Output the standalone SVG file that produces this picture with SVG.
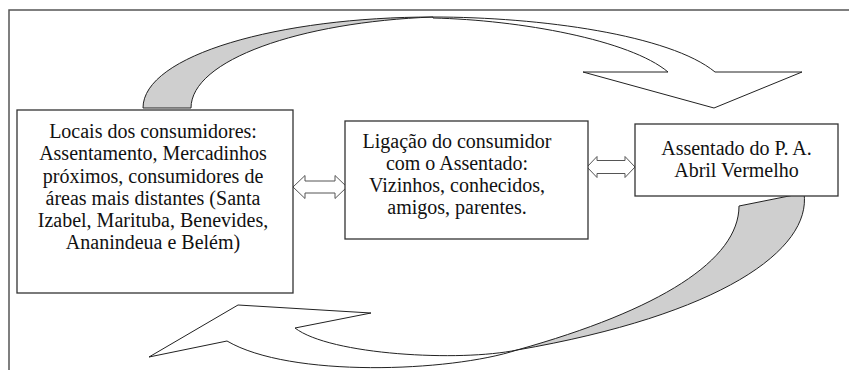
<svg xmlns="http://www.w3.org/2000/svg" width="849" height="370" viewBox="0 0 849 370">
<style>
.frame{fill:none;stroke:#555;stroke-width:1.5}
.box{fill:#fff;stroke:#333;stroke-width:1.3}
.t{font-family:'Liberation Serif','DejaVu Serif','Times New Roman',serif;font-size:20px;fill:#111;text-anchor:middle}
.gray{fill:#cfcfcf;stroke:#222;stroke-width:1}
.white{fill:#fff;stroke:#222;stroke-width:1}
.dbl{fill:#fff;stroke:#555;stroke-width:1}
</style>
<rect width="849" height="370" fill="#fff"/>
<path class="frame" d="M9,370 L9,10 L849,10"/>
<g id="connectors">
  <path class="gray" d="M143,108 C143,55 280,17 433,17 C300,22 191,60 191,108 Z"/>
  <path class="white" d="M433,17 C540,17 670,35 715,72 L802,72 L714,108 L583,72 L668,72 C630,40 520,20 433,18 Z"/>
  <path class="gray" d="M739,206 L804,193 C812,250 720,315 517,350 C660,310 739,260 739,206 Z"/>
  <path class="white" d="M517,350 C460,362 330,355 295,328 L371,313 L238,305 L149,357 L227,341 C290,378 450,372 517,350 Z"/>
  <path class="dbl" d="M293,187 L305,175.5 L305,181 L335,181 L335,175.5 L347,187 L335,198.5 L335,193 L305,193 L305,198.5 Z"/>
  <path class="dbl" d="M587,167 L597,156.5 L597,160.5 L625,160.5 L625,156.5 L635,167 L625,177.5 L625,173.5 L597,173.5 L597,177.5 Z"/>
</g>
<g id="node-locais">
  <rect class="box" x="17" y="110" width="276" height="183"/>
  <text class="t" x="153" y="138">Locais dos consumidores:</text>
  <text class="t" x="153" y="160">Assentamento, Mercadinhos</text>
  <text class="t" x="153" y="182.5">próximos, consumidores de</text>
  <text class="t" x="153" y="204.5">áreas mais distantes (Santa</text>
  <text class="t" x="153" y="227">Izabel, Marituba, Benevides,</text>
  <text class="t" x="153" y="249">Ananindeua e Belém)</text>
</g>
<g id="node-ligacao">
  <rect class="box" x="345" y="121" width="243" height="118"/>
  <text class="t" x="457" y="148">Ligação do consumidor</text>
  <text class="t" x="457" y="170">com o Assentado:</text>
  <text class="t" x="457" y="192">Vizinhos, conhecidos,</text>
  <text class="t" x="457" y="214">amigos, parentes.</text>
</g>
<g id="node-assentado">
  <rect class="box" x="635" y="124" width="203" height="72"/>
  <text class="t" x="736.5" y="155">Assentado do P. A.</text>
  <text class="t" x="736.5" y="176.5">Abril Vermelho</text>
</g>
</svg>
